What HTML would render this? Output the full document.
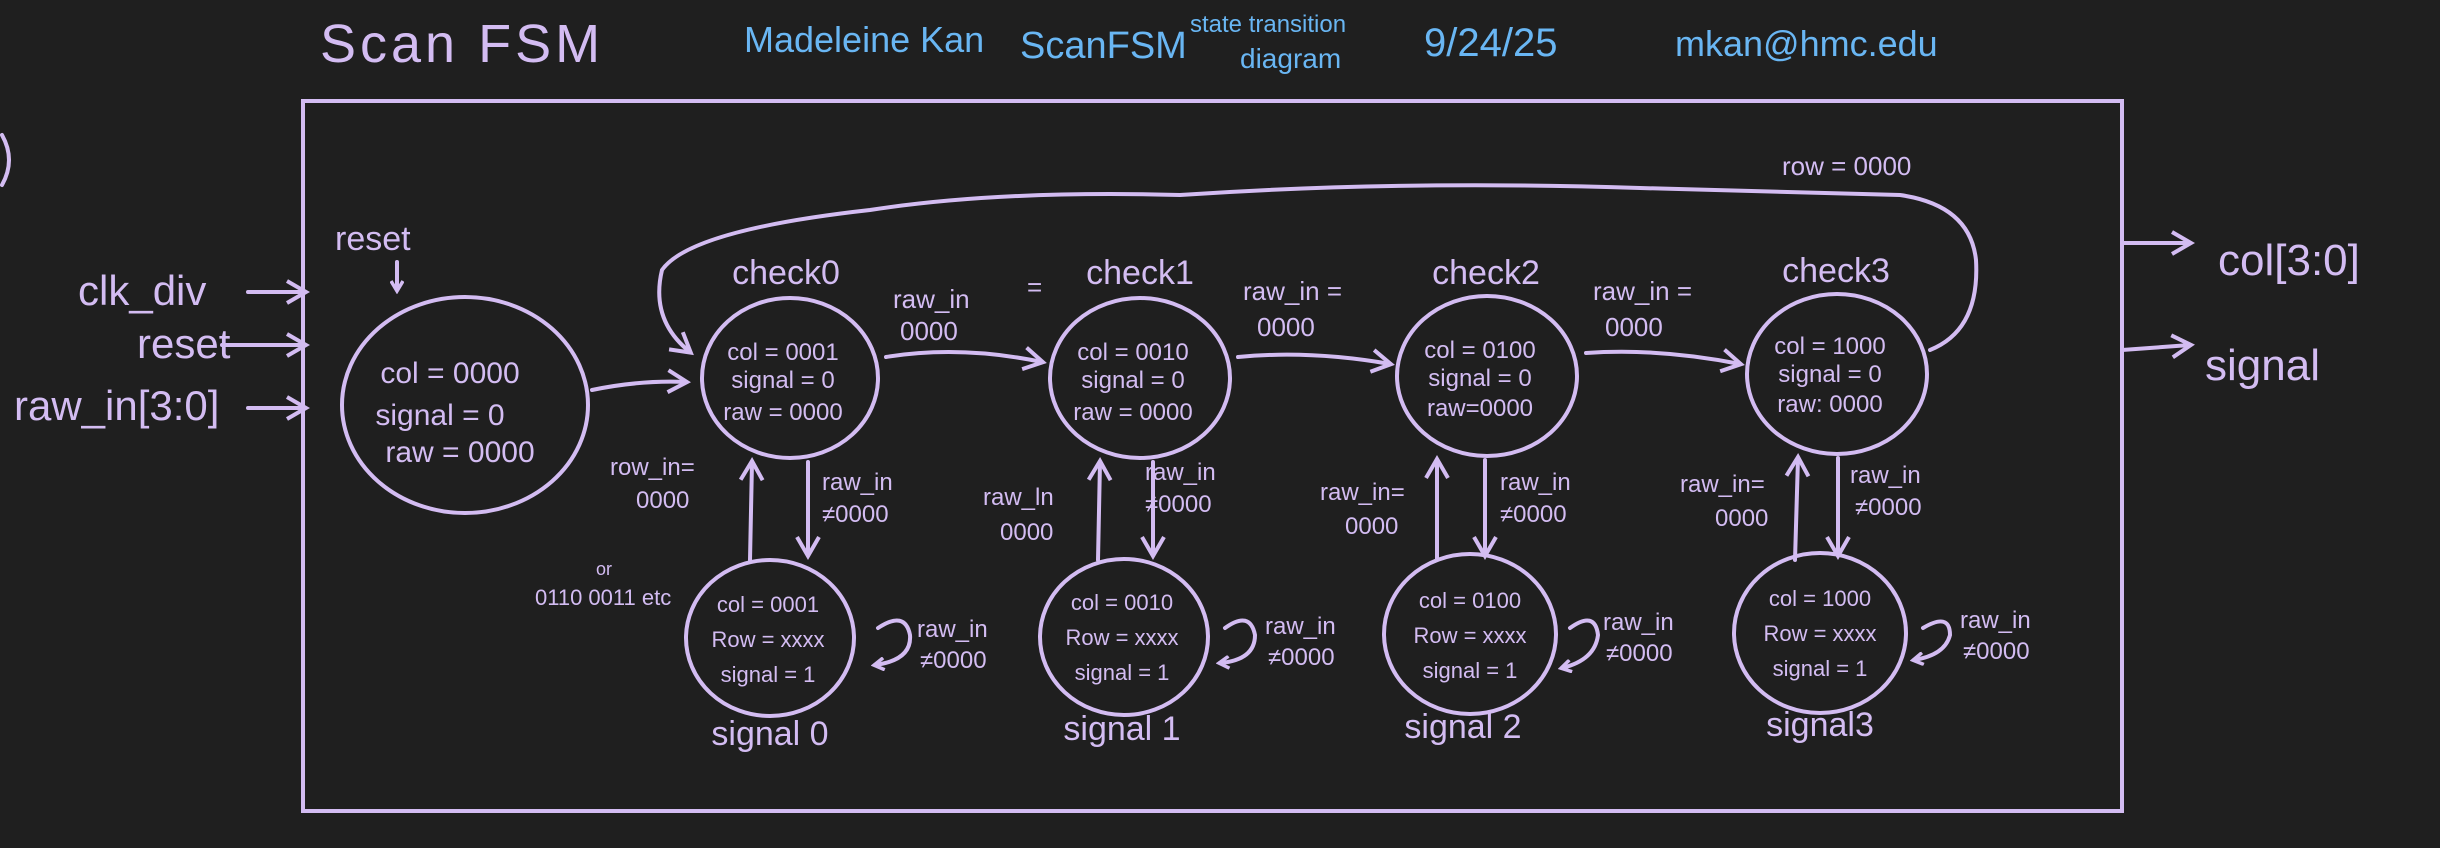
<!DOCTYPE html>
<html><head><meta charset="utf-8"><style>
html,body{margin:0;padding:0;background:#1f1f1f;}
svg{display:block;}
text{font-family:"Liberation Sans",sans-serif;fill:#d3bcf2;}
.b{fill:#69b6f3;}
</style></head><body>
<svg width="2440" height="848" viewBox="0 0 2440 848" xmlns="http://www.w3.org/2000/svg">
<defs>
<marker id="a" markerWidth="14" markerHeight="14" refX="10" refY="7" orient="auto" markerUnits="userSpaceOnUse">
<path d="M1,1 L11,7 L1,13" fill="none" stroke="#d3bcf2" stroke-width="3.5"/></marker>
<marker id="A" markerWidth="26" markerHeight="26" refX="20" refY="13" orient="auto" markerUnits="userSpaceOnUse">
<path d="M2,2 L21,13 L2,24" fill="none" stroke="#d3bcf2" stroke-width="4"/></marker>
</defs>
<g fill="none" stroke="#d3bcf2" stroke-width="4" stroke-linecap="round">
<rect x="303" y="101" width="1819" height="710"/>
<path d="M2,135 Q16,160 2,185"/>
<!-- inputs -->
<path d="M248,292 L305,292" marker-end="url(#A)"/>
<path d="M222,345 L305,345" marker-end="url(#A)"/>
<path d="M248,408 L305,408" marker-end="url(#A)"/>
<path d="M397,262 L397,290" marker-end="url(#a)"/>
<!-- init -->
<ellipse cx="465" cy="405" rx="123" ry="108"/>
<path d="M592,390 Q640,380 686,382" marker-end="url(#A)"/>
<!-- checks -->
<ellipse cx="790" cy="378" rx="88" ry="80"/>
<ellipse cx="1140" cy="378" rx="90" ry="80"/>
<ellipse cx="1487" cy="376" rx="90" ry="80"/>
<ellipse cx="1837" cy="374" rx="90" ry="80"/>
<path d="M886,357 Q960,345 1042,362" marker-end="url(#A)"/>
<path d="M1238,357 Q1310,350 1390,364" marker-end="url(#A)"/>
<path d="M1586,353 Q1660,348 1740,364" marker-end="url(#A)"/>
<!-- top loop -->
<path d="M1930,350 Q1980,330 1976,260 Q1970,205 1900,195 L1640,188 Q1400,180 1180,195 Q1000,190 870,210 Q690,230 662,270 Q650,320 690,352" marker-end="url(#A)"/>
<!-- signals -->
<ellipse cx="770" cy="638" rx="84" ry="78"/>
<ellipse cx="1124" cy="637" rx="84" ry="78"/>
<ellipse cx="1470" cy="634" rx="86" ry="80"/>
<ellipse cx="1820" cy="633" rx="86" ry="80"/>
<!-- verticals -->
<path d="M750,560 L752,462" marker-end="url(#A)"/>
<path d="M808,462 L808,555" marker-end="url(#A)"/>
<path d="M1098,560 L1100,462" marker-end="url(#A)"/>
<path d="M1153,462 L1153,555" marker-end="url(#A)"/>
<path d="M1437,560 L1437,460" marker-end="url(#A)"/>
<path d="M1485,460 L1485,555" marker-end="url(#A)"/>
<path d="M1795,560 L1798,458" marker-end="url(#A)"/>
<path d="M1838,458 L1838,555" marker-end="url(#A)"/>
<!-- self loops -->
<path d="M878,628 Q905,610 910,635 Q912,660 875,665" marker-end="url(#a)"/>
<path d="M1225,628 Q1250,610 1255,635 Q1255,660 1220,663" marker-end="url(#a)"/>
<path d="M1570,628 Q1595,610 1598,635 Q1595,660 1562,668" marker-end="url(#a)"/>
<path d="M1923,628 Q1950,612 1950,635 Q1945,655 1914,660" marker-end="url(#a)"/>
<!-- outputs -->
<path d="M2122,243 L2190,243" marker-end="url(#A)"/>
<path d="M2122,350 L2190,345" marker-end="url(#A)"/>
</g>
<text x="320" y="62" font-size="54" letter-spacing="4">Scan FSM</text>
<text class="b" x="744" y="52" font-size="36">Madeleine Kan</text>
<text class="b" x="1020" y="58" font-size="38">ScanFSM</text>
<text class="b" x="1190" y="32" font-size="24">state transition</text>
<text class="b" x="1240" y="68" font-size="28">diagram</text>
<text class="b" x="1424" y="56" font-size="40">9/24/25</text>
<text class="b" x="1675" y="56" font-size="36">mkan@hmc.edu</text>
<text x="78" y="305" font-size="42">clk_div</text>
<text x="137" y="358" font-size="42">reset</text>
<text x="14" y="420" font-size="42">raw_in[3:0]</text>
<text x="335" y="250" font-size="34">reset</text>
<g font-size="30" text-anchor="middle">
<text x="450" y="383">col = 0000</text>
<text x="440" y="425">signal = 0</text>
<text x="460" y="462">raw = 0000</text>
</g>
<g font-size="34" text-anchor="middle">
<text x="786" y="284">check0</text><text x="1140" y="284">check1</text>
<text x="1486" y="284">check2</text><text x="1836" y="282">check3</text>
<text x="770" y="745">signal 0</text><text x="1122" y="740">signal 1</text>
<text x="1463" y="738">signal 2</text><text x="1820" y="736">signal3</text>
</g>
<g font-size="24" text-anchor="middle">
<text x="783" y="360">col = 0001</text><text x="783" y="388">signal = 0</text><text x="783" y="420">raw = 0000</text>
<text x="1133" y="360">col = 0010</text><text x="1133" y="388">signal = 0</text><text x="1133" y="420">raw = 0000</text>
<text x="1480" y="358">col = 0100</text><text x="1480" y="386">signal = 0</text><text x="1480" y="416">raw=0000</text>
<text x="1830" y="354">col = 1000</text><text x="1830" y="382">signal = 0</text><text x="1830" y="412">raw: 0000</text>
</g>
<g font-size="22" text-anchor="middle">
<text x="768" y="612">col = 0001</text><text x="768" y="647">Row = xxxx</text><text x="768" y="682">signal = 1</text>
<text x="1122" y="610">col = 0010</text><text x="1122" y="645">Row = xxxx</text><text x="1122" y="680">signal = 1</text>
<text x="1470" y="608">col = 0100</text><text x="1470" y="643">Row = xxxx</text><text x="1470" y="678">signal = 1</text>
<text x="1820" y="606">col = 1000</text><text x="1820" y="641">Row = xxxx</text><text x="1820" y="676">signal = 1</text>
</g>
<g font-size="26">
<text x="893" y="308">raw_in</text><text x="1027" y="296">=</text><text x="900" y="340">0000</text>
<text x="1243" y="300">raw_in =</text><text x="1257" y="336">0000</text>
<text x="1593" y="300">raw_in =</text><text x="1605" y="336">0000</text>
<text x="1782" y="175">row = 0000</text>
</g>
<g font-size="24">
<text x="610" y="475">row_in=</text><text x="636" y="508">0000</text>
<text x="596" y="575" font-size="18">or</text><text x="535" y="605" font-size="22">0110 0011 etc</text>
<text x="822" y="490">raw_in</text><text x="822" y="522">≠0000</text>
<text x="983" y="505">raw_ln</text><text x="1000" y="540">0000</text>
<text x="1145" y="480">raw_in</text><text x="1145" y="512">≠0000</text>
<text x="1320" y="500">raw_in=</text><text x="1345" y="534">0000</text>
<text x="1500" y="490">raw_in</text><text x="1500" y="522">≠0000</text>
<text x="1680" y="492">raw_in=</text><text x="1715" y="526">0000</text>
<text x="1850" y="483">raw_in</text><text x="1855" y="515">≠0000</text>
<text x="917" y="637">raw_in</text><text x="920" y="668">≠0000</text>
<text x="1265" y="634">raw_in</text><text x="1268" y="665">≠0000</text>
<text x="1603" y="630">raw_in</text><text x="1606" y="661">≠0000</text>
<text x="1960" y="628">raw_in</text><text x="1963" y="659">≠0000</text>
</g>
<text x="2218" y="275" font-size="44">col[3:0]</text>
<text x="2205" y="380" font-size="44">signal</text>
</svg>
</body></html>
